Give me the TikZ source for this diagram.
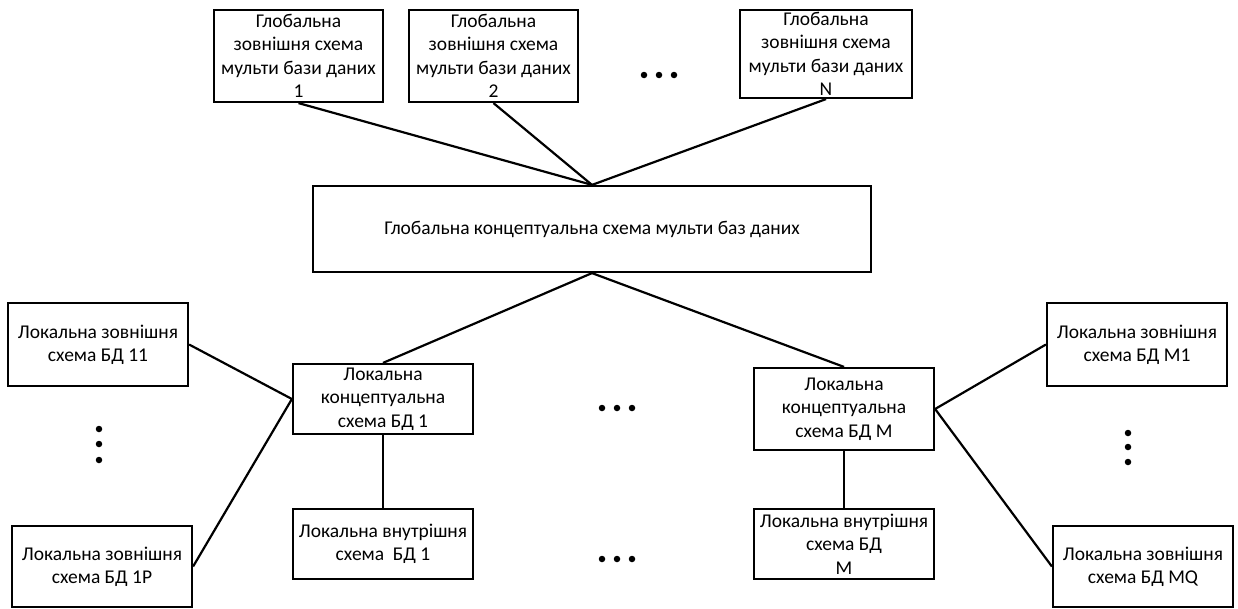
\documentclass[tikz,border=0pt]{standalone}
\usepackage{fontspec}
\setmainfont{Carlito}
\begin{document}
\begin{tikzpicture}[x=1pt,y=-1pt,
  box/.style={draw=black,line width=2.2pt,rectangle,inner sep=0pt,align=center,
    font=\fontsize{19.5}{23.3}\selectfont},
  link/.style={draw=black,line width=2.2pt},
  dot/.style={fill=black,circle,inner sep=0pt,minimum size=6.5pt}]
\useasboundingbox (0,0) rectangle (1238,608);

% global external schemas
\node[box,minimum width=169pt,minimum height=92pt] (g1) at (298.5,56)
  {Глобальна\\зовнішня схема\\мульти бази даних\\1};
\node[box,minimum width=169pt,minimum height=92pt] (g2) at (493.5,56)
  {Глобальна\\зовнішня схема\\мульти бази даних\\2};
\node[box,minimum width=172pt,minimum height=88pt] (gN) at (826,54)
  {Глобальна\\зовнішня схема\\мульти бази даних\\N};

% global conceptual schema
\node[box,minimum width=558pt,minimum height=86pt] (glob) at (592,229)
  {Глобальна концептуальна схема мульти баз даних};

% local conceptual and internal schemas
\node[box,minimum width=180pt,minimum height=70pt] (lc1) at (383,399)
  {Локальна\\концептуальна\\схема БД 1};
\node[box,minimum width=180pt,minimum height=70pt] (li1) at (383,544)
  {Локальна внутрішня\\схема~ БД 1};
\node[box,minimum width=180pt,minimum height=82pt] (lcM) at (844,409)
  {Локальна\\концептуальна\\схема БД М};
\node[box,minimum width=180pt,minimum height=70pt] (liM) at (844,544)
  {Локальна внутрішня\\схема БД\\М};

% local external schemas
\node[box,minimum width=180pt,minimum height=83pt] (le11) at (98,344.5)
  {Локальна зовнішня\\схема БД 11};
\node[box,minimum width=180pt,minimum height=81pt] (le1P) at (102,566.5)
  {Локальна зовнішня\\схема БД 1Р};
\node[box,minimum width=180pt,minimum height=83pt] (leM1) at (1137,344.5)
  {Локальна зовнішня\\схема БД М1};
\node[box,minimum width=180pt,minimum height=81pt] (leMQ) at (1143,566.5)
  {Локальна зовнішня\\схема БД MQ};

% connectors
\draw[link] (g1.south) -- (glob.north);
\draw[link] (g2.south) -- (glob.north);
\draw[link] (gN.south) -- (glob.north);
\draw[link] (glob.south) -- (lc1.north);
\draw[link] (glob.south) -- (lcM.north);
\draw[link] (le11.east) -- (lc1.west);
\draw[link] (le1P.east) -- (lc1.west);
\draw[link] (lc1.south) -- (li1.north);
\draw[link] (lcM.east) -- (leM1.west);
\draw[link] (lcM.east) -- (leMQ.west);
\draw[link] (lcM.south) -- (liM.north);

% ellipses
\foreach \px in {644,659,674} \node[dot] (dt\px) at (\px,75) {};
\foreach \px in {602,617,632} {
  \node[dot] (dm\px) at (\px,408) {};
  \node[dot] (db\px) at (\px,559) {};
}
\foreach \py in {429,444,460} \node[dot] (dl\py) at (99,\py) {};
\foreach \py in {433,447,462} \node[dot] (dr\py) at (1128,\py) {};
\end{tikzpicture}
\end{document}
